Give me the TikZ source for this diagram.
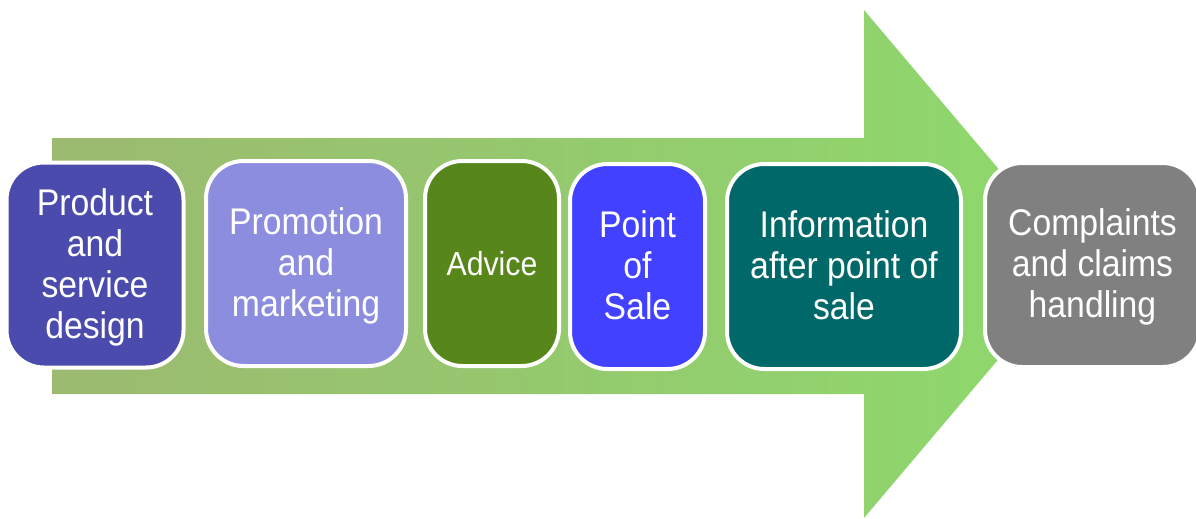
\documentclass[tikz,border=0pt]{standalone}
\usepackage{fontspec}
\setmainfont{Liberation Sans}
\definecolor{arrowA}{HTML}{9CBA70}
\definecolor{arrowB}{HTML}{8FD66D}
\definecolor{boxA}{HTML}{4B4BAD}
\definecolor{boxB}{HTML}{8D8DE0}
\definecolor{boxC}{HTML}{57871A}
\definecolor{boxD}{HTML}{4141FF}
\definecolor{boxE}{HTML}{006868}
\definecolor{boxF}{HTML}{808080}
\pgfdeclarehorizontalshading{arrowgrad}{100bp}{color(0bp)=(arrowA);color(25bp)=(arrowA);color(70bp)=(arrowB);color(100bp)=(arrowB)}
\newcommand\stagetext[1]{\raisebox{\dimexpr-2.6pt-0.275em\relax}[0pt][0pt]{\scalebox{1}[1.1]{\begin{tabular}{@{}c@{}}#1\end{tabular}}}}
\tikzset{
  stagebox/.style={draw=white,line width=3pt,rounded corners=28pt,text=white,
    font=\fontsize{25.3}{27.9}\selectfont,inner sep=0pt,anchor=center,fill=#1,minimum height=153.75pt}
}
\begin{document}
\begin{tikzpicture}[x=0.75pt,y=-0.75pt]
\useasboundingbox (0,0) rectangle (1196,518);
\path[shading=arrowgrad] (52,138) -- (864,138) -- (864,10) -- (1079,264) -- (864,518) -- (864,394) -- (52,394) -- cycle;
\node[stagebox=boxA,minimum width=132.75pt] (a) at (95,265) {\stagetext{Product\\and\\service\\design}};
\node[stagebox=boxB,minimum width=150pt] (b) at (306,263.5) {\stagetext{Promotion\\and\\marketing}};
\node[stagebox=boxC,minimum width=100.5pt,font=\fontsize{22.7}{25}\selectfont] (c) at (492,263.5) {\stagetext{Advice}};
\node[stagebox=boxD,minimum width=101.25pt] (d) at (637.5,266.5) {\stagetext{Point\\of\\Sale}};
\node[stagebox=boxE,minimum width=175.5pt] (e) at (844,266.5) {\stagetext{Information\\after point of\\sale}};
\begin{scope}
\clip (0,0) rectangle (1196,518);
\node[stagebox=boxF,minimum width=161.25pt,minimum height=153pt] (f) at (1092.5,265) {\stagetext{Complaints\\and claims\\handling}};
\end{scope}
\end{tikzpicture}
\end{document}
